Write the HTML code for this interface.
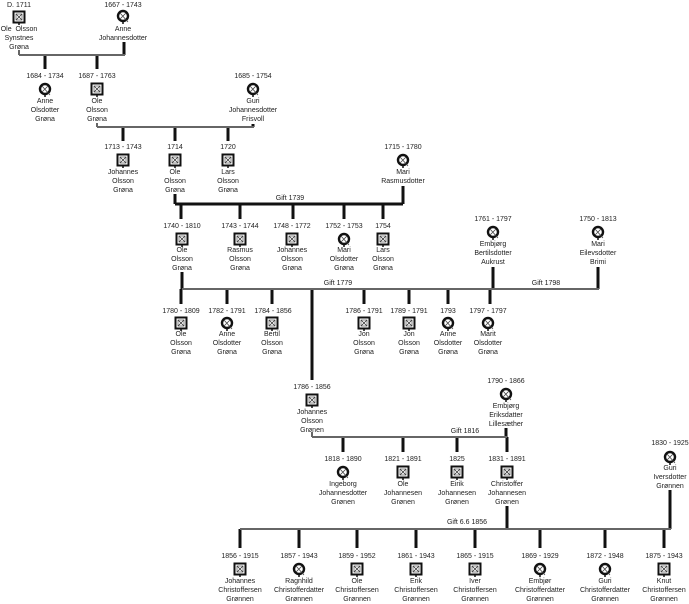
<!DOCTYPE html>
<html><head><meta charset="utf-8"><style>
html,body{margin:0;padding:0;background:#fff;}
svg{display:block;}
text{font-family:"Liberation Sans",sans-serif;font-size:7px;fill:#222;text-anchor:middle;}
</style></head><body>
<svg width="689" height="604" viewBox="0 0 689 604" xmlns="http://www.w3.org/2000/svg">
<defs>
<g id="m"><rect x="-5.5" y="-5.5" width="11" height="11" fill="#fff" stroke="#111" stroke-width="2"/><rect x="-3" y="-3" width="6" height="6" fill="none" stroke="#555" stroke-width="0.7"/><path d="M-3 -3L3 3M3 -3L-3 3" stroke="#333" stroke-width="0.8"/><line x1="0" y1="5.5" x2="0" y2="8" stroke="#111" stroke-width="1.5"/></g>
<g id="f"><circle r="5" fill="#fff" stroke="#111" stroke-width="2.4"/><path d="M-3 -3L5 6M3 -3L-3 3" stroke="#444" stroke-width="0.8"/><line x1="0" y1="5" x2="0" y2="8" stroke="#111" stroke-width="1.5"/></g>
</defs>
<g stroke="#111" stroke-width="3" fill="none">
<line x1="124" y1="42" x2="124" y2="55"/>
<line x1="45" y1="55" x2="45" y2="69"/><line x1="97" y1="55" x2="97" y2="69"/>
<line x1="253" y1="124" x2="253" y2="127"/>
<line x1="123" y1="127" x2="123" y2="141"/><line x1="175" y1="127" x2="175" y2="141"/><line x1="228" y1="127" x2="228" y2="141"/>
<line x1="175" y1="194" x2="175" y2="204"/><line x1="403" y1="186" x2="403" y2="204"/>
<line x1="175" y1="204" x2="403" y2="204"/>
<line x1="181" y1="204" x2="181" y2="219"/><line x1="240" y1="204" x2="240" y2="219"/><line x1="293" y1="204" x2="293" y2="219"/><line x1="344" y1="204" x2="344" y2="219"/><line x1="383" y1="204" x2="383" y2="219"/>
<line x1="182" y1="272" x2="182" y2="289"/><line x1="493" y1="267" x2="493" y2="289"/><line x1="598" y1="267" x2="598" y2="289"/>
<line x1="181" y1="289" x2="181" y2="304"/><line x1="227" y1="289" x2="227" y2="304"/><line x1="272" y1="289" x2="272" y2="304"/>
<line x1="312" y1="289" x2="312" y2="380"/>
<line x1="364" y1="289" x2="364" y2="304"/><line x1="409" y1="289" x2="409" y2="304"/><line x1="448" y1="289" x2="448" y2="304"/><line x1="490" y1="289" x2="490" y2="304"/>
<line x1="506" y1="428" x2="506" y2="437"/>
<line x1="343" y1="437" x2="343" y2="452"/><line x1="403" y1="437" x2="403" y2="452"/><line x1="457" y1="437" x2="457" y2="452"/><line x1="507" y1="437" x2="507" y2="452"/>
<line x1="507" y1="506" x2="507" y2="529"/><line x1="670" y1="490" x2="670" y2="529"/>
<line x1="240" y1="529" x2="240" y2="548"/><line x1="299" y1="529" x2="299" y2="548"/><line x1="357" y1="529" x2="357" y2="548"/><line x1="416" y1="529" x2="416" y2="548"/><line x1="475" y1="529" x2="475" y2="548"/><line x1="540" y1="529" x2="540" y2="548"/><line x1="605" y1="529" x2="605" y2="548"/><line x1="664" y1="529" x2="664" y2="548"/>
</g>
<g stroke="#666" stroke-width="2" fill="none">
<line x1="19" y1="55" x2="125" y2="55"/>
<line x1="19" y1="50" x2="19" y2="55"/>
<line x1="97" y1="127" x2="254" y2="127"/>
<line x1="97" y1="123" x2="97" y2="127"/>
<line x1="182" y1="289" x2="599" y2="289"/>
<line x1="312" y1="437" x2="507" y2="437"/>
<line x1="312" y1="432" x2="312" y2="437"/>
<line x1="240" y1="529" x2="671" y2="529"/>
</g>
<text x="290" y="200">Gift 1739</text>
<text x="338" y="285">Gift 1779</text>
<text x="546" y="285">Gift 1798</text>
<text x="465" y="433">Gift 1816</text>
<text x="467" y="524">Gift 6.6 1856</text>

<text x="19" y="7">D. 1711</text><use href="#m" x="19" y="17"/><text x="19" y="31" xml:space="preserve">Ole  Olsson</text><text x="19" y="40">Synstnes</text><text x="19" y="49">Grøna</text>
<text x="123" y="7">1667 - 1743</text><use href="#f" x="123" y="16"/><text x="123" y="31">Anne</text><text x="123" y="40">Johannesdotter</text>
<text x="45" y="78">1684 - 1734</text><use href="#f" x="45" y="89"/><text x="45" y="103">Anne</text><text x="45" y="112">Olsdotter</text><text x="45" y="121">Grøna</text>
<text x="97" y="78">1687 - 1763</text><use href="#m" x="97" y="89"/><text x="97" y="103">Ole</text><text x="97" y="112">Olsson</text><text x="97" y="121">Grøna</text>
<text x="253" y="78">1685 - 1754</text><use href="#f" x="253" y="89"/><text x="253" y="103">Guri</text><text x="253" y="112">Johannesdotter</text><text x="253" y="121">Frisvoll</text>
<text x="123" y="149">1713 - 1743</text><use href="#m" x="123" y="160"/><text x="123" y="174">Johannes</text><text x="123" y="183">Olsson</text><text x="123" y="192">Grøna</text>
<text x="175" y="149">1714</text><use href="#m" x="175" y="160"/><text x="175" y="174">Ole</text><text x="175" y="183">Olsson</text><text x="175" y="192">Grøna</text>
<text x="228" y="149">1720</text><use href="#m" x="228" y="160"/><text x="228" y="174">Lars</text><text x="228" y="183">Olsson</text><text x="228" y="192">Grøna</text>
<text x="403" y="149">1715 - 1780</text><use href="#f" x="403" y="160"/><text x="403" y="174">Mari</text><text x="403" y="183">Rasmusdotter</text>
<text x="182" y="228">1740 - 1810</text><use href="#m" x="182" y="239"/><text x="182" y="252">Ole</text><text x="182" y="261">Olsson</text><text x="182" y="270">Grøna</text>
<text x="240" y="228">1743 - 1744</text><use href="#m" x="240" y="239"/><text x="240" y="252">Rasmus</text><text x="240" y="261">Olsson</text><text x="240" y="270">Grøna</text>
<text x="292" y="228">1748 - 1772</text><use href="#m" x="292" y="239"/><text x="292" y="252">Johannes</text><text x="292" y="261">Olsson</text><text x="292" y="270">Grøna</text>
<text x="344" y="228">1752 - 1753</text><use href="#f" x="344" y="239"/><text x="344" y="252">Mari</text><text x="344" y="261">Olsdotter</text><text x="344" y="270">Grøna</text>
<text x="383" y="228">1754</text><use href="#m" x="383" y="239"/><text x="383" y="252">Lars</text><text x="383" y="261">Olsson</text><text x="383" y="270">Grøna</text>
<text x="493" y="221">1761 - 1797</text><use href="#f" x="493" y="232"/><text x="493" y="246">Embjørg</text><text x="493" y="255">Bertilsdotter</text><text x="493" y="264">Aukrust</text>
<text x="598" y="221">1750 - 1813</text><use href="#f" x="598" y="232"/><text x="598" y="246">Mari</text><text x="598" y="255">Eilevsdotter</text><text x="598" y="264">Brimi</text>
<text x="181" y="313">1780 - 1809</text><use href="#m" x="181" y="323"/><text x="181" y="336">Ole</text><text x="181" y="345">Olsson</text><text x="181" y="354">Grøna</text>
<text x="227" y="313">1782 - 1791</text><use href="#f" x="227" y="323"/><text x="227" y="336">Anne</text><text x="227" y="345">Olsdotter</text><text x="227" y="354">Grøna</text>
<text x="273" y="313">1784 - 1856</text><use href="#m" x="272" y="323"/><text x="272" y="336">Bertil</text><text x="272" y="345">Olsson</text><text x="272" y="354">Grøna</text>
<text x="364" y="313">1786 - 1791</text><use href="#m" x="364" y="323"/><text x="364" y="336">Jon</text><text x="364" y="345">Olsson</text><text x="364" y="354">Grøna</text>
<text x="409" y="313">1789 - 1791</text><use href="#m" x="409" y="323"/><text x="409" y="336">Jon</text><text x="409" y="345">Olsson</text><text x="409" y="354">Grøna</text>
<text x="448" y="313">1793</text><use href="#f" x="448" y="323"/><text x="448" y="336">Anne</text><text x="448" y="345">Olsdotter</text><text x="448" y="354">Grøna</text>
<text x="488" y="313">1797 - 1797</text><use href="#f" x="488" y="323"/><text x="488" y="336">Marit</text><text x="488" y="345">Olsdotter</text><text x="488" y="354">Grøna</text>
<text x="312" y="389">1786 - 1856</text><use href="#m" x="312" y="400"/><text x="312" y="414">Johannes</text><text x="312" y="423">Olsson</text><text x="312" y="432">Grønen</text>
<text x="506" y="383">1790 - 1866</text><use href="#f" x="506" y="394"/><text x="506" y="408">Embjørg</text><text x="506" y="417">Eriksdatter</text><text x="506" y="426">Lillesæther</text>
<text x="343" y="461">1818 - 1890</text><use href="#f" x="343" y="472"/><text x="343" y="486">Ingeborg</text><text x="343" y="495">Johannesdotter</text><text x="343" y="504">Grønen</text>
<text x="403" y="461">1821 - 1891</text><use href="#m" x="403" y="472"/><text x="403" y="486">Ole</text><text x="403" y="495">Johannesen</text><text x="403" y="504">Grønen</text>
<text x="457" y="461">1825</text><use href="#m" x="457" y="472"/><text x="457" y="486">Eirik</text><text x="457" y="495">Johannesen</text><text x="457" y="504">Grønen</text>
<text x="507" y="461">1831 - 1891</text><use href="#m" x="507" y="472"/><text x="507" y="486">Christoffer</text><text x="507" y="495">Johannesen</text><text x="507" y="504">Grønen</text>
<text x="670" y="445">1830 - 1925</text><use href="#f" x="670" y="457"/><text x="670" y="470">Guri</text><text x="670" y="479">Iversdotter</text><text x="670" y="488">Grønnen</text>
<text x="240" y="558">1856 - 1915</text><use href="#m" x="240" y="569"/><text x="240" y="583">Johannes</text><text x="240" y="592">Christoffersen</text><text x="240" y="601">Grønnen</text>
<text x="299" y="558">1857 - 1943</text><use href="#f" x="299" y="569"/><text x="299" y="583">Ragnhild</text><text x="299" y="592">Christofferdatter</text><text x="299" y="601">Grønnen</text>
<text x="357" y="558">1859 - 1952</text><use href="#m" x="357" y="569"/><text x="357" y="583">Ole</text><text x="357" y="592">Christoffersen</text><text x="357" y="601">Grønnen</text>
<text x="416" y="558">1861 - 1943</text><use href="#m" x="416" y="569"/><text x="416" y="583">Erik</text><text x="416" y="592">Christoffersen</text><text x="416" y="601">Grønnen</text>
<text x="475" y="558">1865 - 1915</text><use href="#m" x="475" y="569"/><text x="475" y="583">Iver</text><text x="475" y="592">Christoffersen</text><text x="475" y="601">Grønnen</text>
<text x="540" y="558">1869 - 1929</text><use href="#f" x="540" y="569"/><text x="540" y="583">Embjør</text><text x="540" y="592">Christofferdatter</text><text x="540" y="601">Grønnen</text>
<text x="605" y="558">1872 - 1948</text><use href="#f" x="605" y="569"/><text x="605" y="583">Guri</text><text x="605" y="592">Christofferdatter</text><text x="605" y="601">Grønnen</text>
<text x="664" y="558">1875 - 1943</text><use href="#m" x="664" y="569"/><text x="664" y="583">Knut</text><text x="664" y="592">Christoffersen</text><text x="664" y="601">Grønnen</text>
</svg>
</body></html>
